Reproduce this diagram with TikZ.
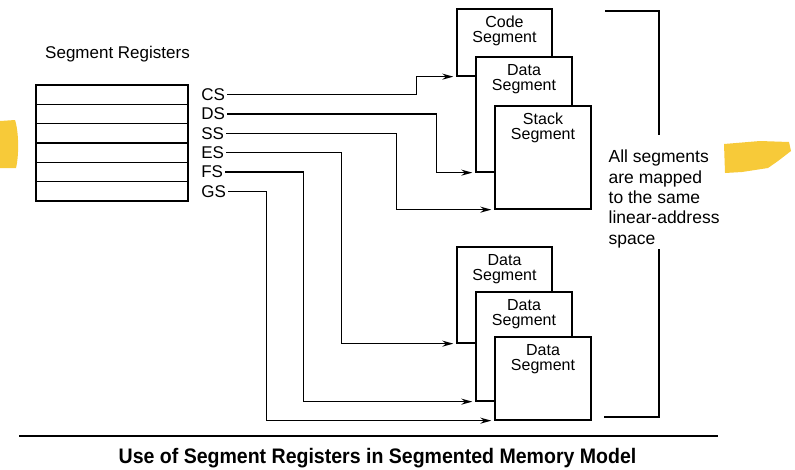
\documentclass[tikz,border=0pt]{standalone}
\usepackage{fontspec}
\setmainfont{Liberation Sans}
\newfontfamily\captionfont[FakeStretch=0.93]{Liberation Sans}
\usetikzlibrary{calc, positioning, arrows.meta}

\begin{document}
\begin{tikzpicture}[
    x=1pt, y=-1pt,
    >={Stealth[length=11pt, width=6pt]},
    line width=1.3pt,
    reg/.style={draw, rectangle, minimum width=152pt, minimum height=19.33pt, inner sep=0pt},
    seg/.style={draw, rectangle, fill=white, inner sep=0pt},
    seg_text/.style={anchor=north, align=center, inner sep=0pt, font=\fontsize{16}{15.2}\selectfont},
    reg_font/.style={font=\fontsize{17}{20}\selectfont},
    marker/.style={fill={rgb,255:red,246;green,196;blue,36}, fill opacity=0.9}
]
    \useasboundingbox (0,0) rectangle (795,469);

    % Yellow marker strokes
    \fill[marker] (0,121) -- (15,120) .. controls (19,132) and (19,156) .. (16,168) -- (0,168) -- cycle;
    \fill[marker] (724,144) -- (760,141) -- (789,142) -- (791,151) -- (778,161) -- (768,168) -- (742,172) -- (725,173) -- cycle;

    % Register file
    \node[reg_font] (title) at (117.5,54) {Segment Registers};
    \foreach \name/\lab [count=\i] in {cs/CS, ds/DS, ss/SS, es/ES, fs/FS, gs/GS} {
        \node[reg] (reg_\name) at (112, 75.33+19.33*\i) {};
        \node[reg_font, inner sep=1.5pt, right=10.5pt of reg_\name.east] (lab_\name) {\lab};
    }

    % Upper group of segments
    \node[seg, minimum width=95pt, minimum height=67pt] (code) at (504.5,42.5) {};
    \node[seg_text, below=7pt of code.north] {Code\\Segment};
    \node[seg, minimum width=96pt, minimum height=115pt] (data_a) at (524,114.5) {};
    \node[seg_text, below=7pt of data_a.north] {Data\\Segment};
    \node[seg, minimum width=96pt, minimum height=103pt] (stack) at (543,157.5) {};
    \node[seg_text, below=7pt of stack.north] {Stack\\Segment};

    % Lower group of segments
    \node[seg, minimum width=95pt, minimum height=96pt] (data_b) at (504.5,295) {};
    \node[seg_text, below=7pt of data_b.north] {Data\\Segment};
    \node[seg, minimum width=96pt, minimum height=109pt] (data_c) at (524,346.5) {};
    \node[seg_text, below=7pt of data_c.north] {Data\\Segment};
    \node[seg, minimum width=96pt, minimum height=83pt] (data_d) at (543,378.5) {};
    \node[seg_text, below=7pt of data_d.north] {Data\\Segment};

    % Register to segment connections
    \draw[->, shorten >=3pt] (lab_cs.east) -| ($(code.south west) + (-40,0)$) -- (code.south west);
    \draw[->, shorten >=3pt] (lab_ds.east) -| ($(data_a.south west) + (-39,0)$) -- (data_a.south west);
    \draw[->, shorten >=3pt] (lab_ss.east) -| ($(stack.south west) + (-98,0)$) -- (stack.south west);
    \draw[->, shorten >=3pt] (lab_es.east) -| ($(data_b.south west) + (-115,0)$) -- (data_b.south west);
    \draw[->, shorten >=3pt] (lab_fs.east) -| ($(data_c.south west) + (-172,0)$) -- (data_c.south west);
    \draw[->, shorten >=3pt] (lab_gs.east) -| ($(data_d.south west) + (-228,0)$) -- (data_d.south west);

    % Bracket and note
    \node[anchor=west, align=left, inner sep=0pt, font=\fontsize{17.5}{20.3}\selectfont] (note) at (608,199) {All segments\\are mapped\\to the same\\linear-address\\space};
    \draw (605,11) -| (659,135);
    \draw (659,249) |- (604,417);

    % Caption
    \draw (19,436) -- (718,436);
    \node[font=\captionfont\bfseries\fontsize{21}{23}\selectfont, inner sep=1pt] (caption) at (377.5,458.5) {Use of Segment Registers in Segmented Memory Model};

\end{tikzpicture}
\end{document}
